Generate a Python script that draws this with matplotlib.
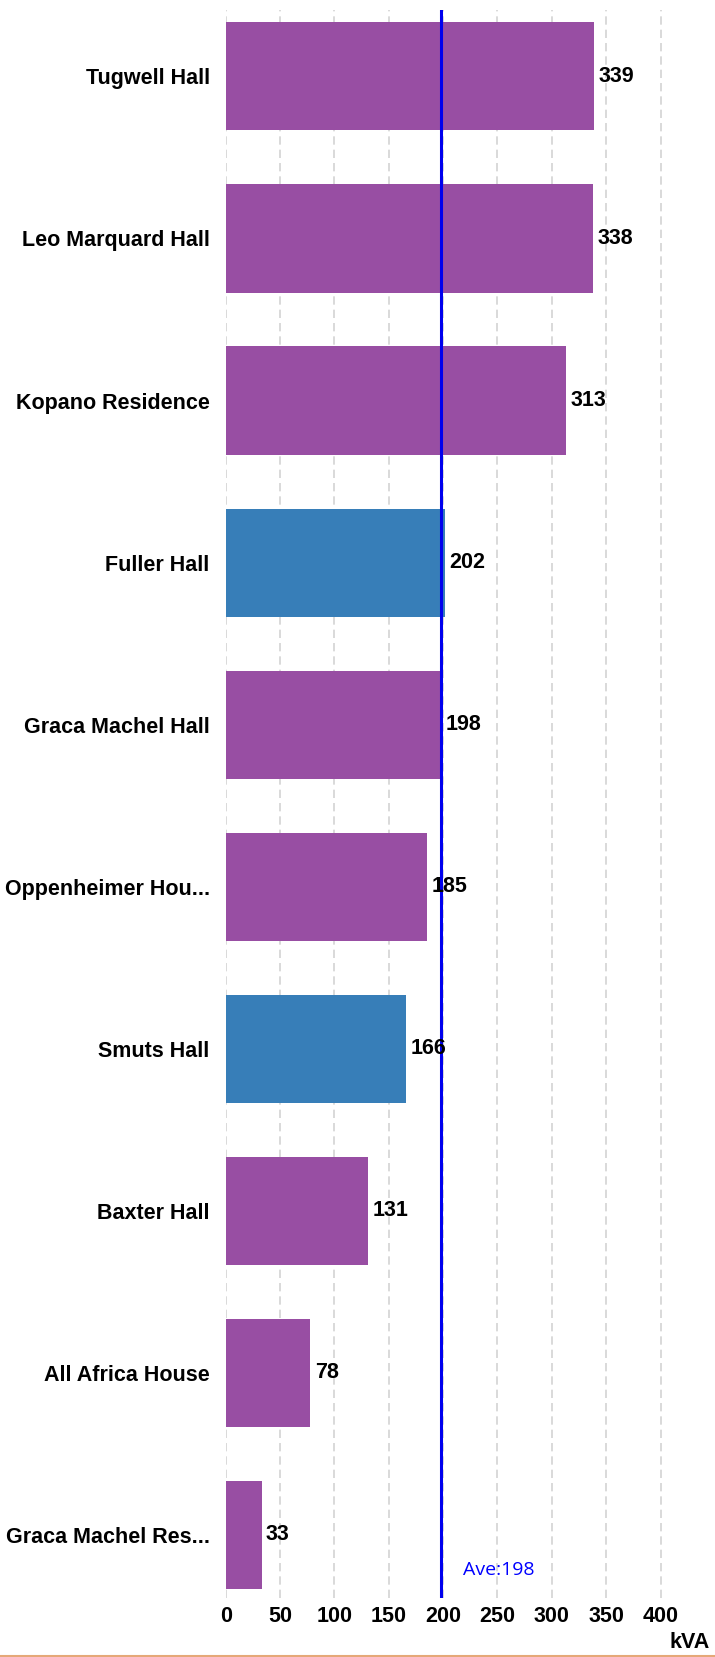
import matplotlib.pyplot as plt

plt.rcParams['font.family'] = ['Liberation Sans', 'DejaVu Sans']

halls = ['Tugwell Hall', 'Leo Marquard Hall', 'Kopano Residence', 'Fuller Hall',
         'Graca Machel Hall', 'Oppenheimer Hou...', 'Smuts Hall', 'Baxter Hall',
         'All Africa House', 'Graca Machel Res...']
kva = [339, 338, 313, 202, 198, 185, 166, 131, 78, 33]
highlight = ['Fuller Hall', 'Smuts Hall']
average = 198
xticks = [0, 50, 100, 150, 200, 250, 300, 350, 400]

purple = '#984ea3'
blue = '#377eb8'
colors = [blue if h in highlight else purple for h in halls]

fig = plt.figure(figsize=(7.15, 16.57), dpi=100)
W, H = 715, 1657
ax = fig.add_axes([225.7 / W, 1 - 1598 / H, (704 - 225.7) / W, (1598 - 10) / H])

y = list(range(len(halls)))
ax.barh(y, kva, height=0.667, color=colors, zorder=2)
ax.set_ylim(len(halls) - 1 + 0.39, -0.41)
ax.set_xlim(0, 440)

for yi, v in zip(y, kva):
    ax.text(v + 4, yi, str(v), va='center', ha='left', fontsize=15.5,
            fontweight='bold', color='black', zorder=4)

ax.axvline(average, color='#0000ee', lw=2.2, zorder=3)
ax.text(average + 20, len(halls) - 1 + 0.22, f'Ave:{average}', color='#0000ff',
        fontsize=14, va='center', ha='left', family=['Open Sans', 'DejaVu Sans'])

ax.set_xticks(xticks)
ax.set_xticklabels([str(t) for t in xticks], fontsize=15.5, fontweight='bold')
ax.set_yticks(y)
ax.set_yticklabels(halls, fontsize=15.5, fontweight='bold')
ax.tick_params(axis='both', length=0)
ax.tick_params(axis='y', pad=11.5)
ax.tick_params(axis='x', pad=6)
ax.grid(axis='x', color='#d3d3d3', linestyle=(0, (5, 3)), lw=1.2, zorder=0)
for s in ax.spines.values():
    s.set_visible(False)

fig.text(710 / W, 1 - 1643 / H, 'kVA', ha='right', va='center', fontsize=15.5,
         fontweight='bold')
fig.add_artist(plt.Line2D([0, 1], [0.6 / H, 0.6 / H], color='#e5a878', lw=1.5))

fig.savefig('out.png', dpi=100)
